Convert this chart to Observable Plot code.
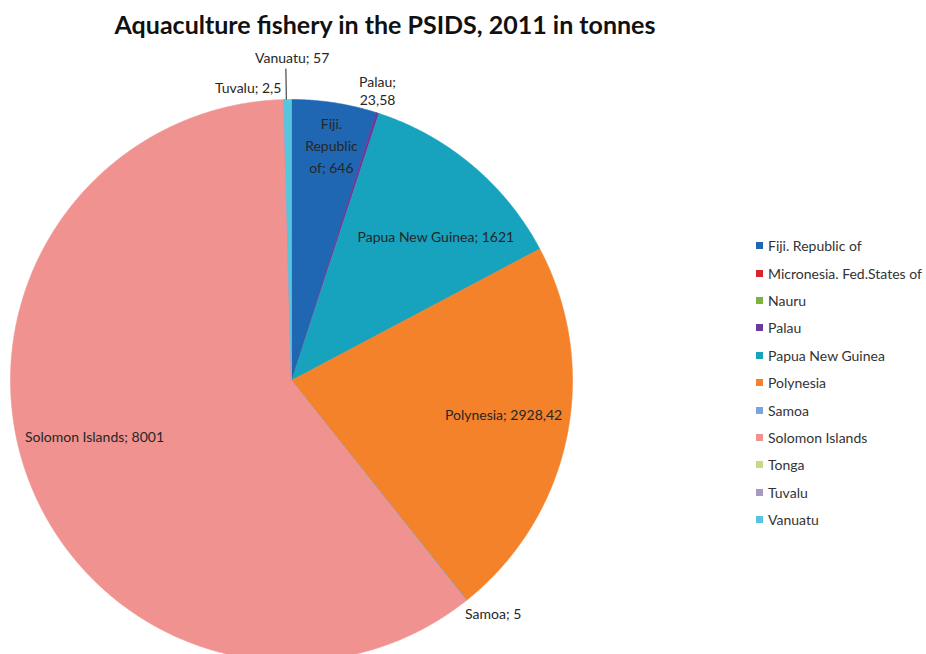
<!DOCTYPE html>
<html>
<head>
<meta charset="utf-8">
<script src="https://cdn.jsdelivr.net/npm/d3@7"></script>
<script src="https://cdn.jsdelivr.net/npm/@observablehq/plot@0.6"></script>
<style>
  html, body { margin: 0; padding: 0; background: #ffffff; overflow: hidden; }
  #wrap { position: relative; width: 926px; height: 654px; font-family: Lato, "Open Sans", sans-serif; }
  #title { height: 40px; width: 770px; text-align: center; font-weight: bold; font-size: 25px; line-height: 30px; padding-top: 9px; box-sizing: border-box; color: #111; white-space: nowrap; }
  #legend { position: absolute; left: 756px; top: 232px; font-size: 14px; color: #333; }
  #legend .row { height: 27.4px; display: flex; align-items: center; white-space: nowrap; }
  #legend .sw { width: 7px; height: 7px; margin-right: 5px; display: inline-block; }
</style>
</head>
<body>
<div id="wrap">
  <div id="title"></div>
  <div id="chart"></div>
  <div id="legend"></div>
</div>
<script>
// ---- data ----
const titleText = "Aquaculture fishery in the PSIDS, 2011 in tonnes";
const countries = ["Fiji. Republic of", "Micronesia. Fed.States of", "Nauru", "Palau", "Papua New Guinea", "Polynesia", "Samoa", "Solomon Islands", "Tonga", "Tuvalu", "Vanuatu"];
const tonnes = [646, 0, 0, 23.58, 1621, 2928.42, 5, 8001, 0, 2.5, 57];
const colors = ["#1f66b3", "#d7262d", "#79b53d", "#6b3a9a", "#17a2be", "#f4822a", "#7aa5d8", "#f0928f", "#c5d98a", "#a898c6", "#55c5e0"];

// label text lines (as shown in the chart)
const labelLines = {
  "Fiji. Republic of": ["Fiji.", "Republic", "of; 646"],
  "Palau": ["Palau;", "23,58"],
  "Papua New Guinea": ["Papua New Guinea; 1621"],
  "Polynesia": ["Polynesia; 2928,42"],
  "Samoa": ["Samoa; 5"],
  "Solomon Islands": ["Solomon Islands; 8001"],
  "Tuvalu": ["Tuvalu; 2,5"],
  "Vanuatu": ["Vanuatu; 57"]
};

// ---- label placement (radius factor + pixel nudges) ----
const place = {
  "Fiji. Republic of": {k: 0.84, dx: 4, dy: -3, anchor: "middle", lh: 1.55},
  "Palau": {k: 1.07, dx: -6, dy: -4, anchor: "middle", lh: 1.3},
  "Papua New Guinea": {k: 0.72, dx: 14, dy: 10, anchor: "middle", lh: 1.3},
  "Polynesia": {k: 0.76, dx: 3, dy: -10, anchor: "middle", lh: 1.3},
  "Samoa": {k: 1.09, dx: 11, dy: -7, anchor: "middle", lh: 1.3},
  "Solomon Islands": {k: 0.75, dx: 1, dy: -16, anchor: "middle", lh: 1.3},
  "Tuvalu": {k: 1.046, dx: -2, dy: 0, anchor: "end", lh: 1.3},
  "Vanuatu": {k: 1.15, dx: 5, dy: 0, anchor: "middle", lh: 1.3}
};

document.getElementById("title").textContent = titleText;

const rows = countries.map((name, i) => ({name, value: tonnes[i]}));
const arcs = d3.pie().sort(null).value(d => d.value)(rows);

// polygon points for slices
const slicePts = [];
arcs.forEach(a => {
  if (a.data.value <= 0) return;
  const span = a.endAngle - a.startAngle;
  const n = Math.max(2, Math.ceil(span / (Math.PI / 720)));
  slicePts.push({name: a.data.name, x: 0, y: 0});
  for (let j = 0; j <= n; j++) {
    const t = a.startAngle + span * j / n;
    slicePts.push({name: a.data.name, x: Math.sin(t), y: Math.cos(t)});
  }
  slicePts.push({name: a.data.name, x: 0, y: 0});
});

const labels = arcs.filter(a => labelLines[a.data.name]).map(a => {
  const m = (a.startAngle + a.endAngle) / 2;
  const p = place[a.data.name];
  return {name: a.data.name, text: labelLines[a.data.name].join("\n"), x: p.k * Math.sin(m), y: p.k * Math.cos(m), dx: p.dx, dy: p.dy, anchor: p.anchor, lh: p.lh};
});

const vArc = arcs.find(a => a.data.name === "Vanuatu");
const vMid = (vArc.startAngle + vArc.endAngle) / 2;
const leader = [{x1: 1.0 * Math.sin(vMid) - 0.005, y1: 1.0, x2: 1.11 * Math.sin(vMid) - 0.005, y2: 1.11}];

const plot = Plot.plot({
  width: 926,
  height: 614,
  margin: 0,
  style: {background: "transparent", overflow: "visible"},
  x: {domain: [-1, 1], range: [10, 572], axis: null},
  y: {domain: [-1, 1], range: [621, 59], axis: null},
  color: {type: "ordinal", domain: countries, range: colors},
  marks: [
    Plot.line(slicePts, {x: "x", y: "y", z: "name", fill: "name", stroke: "name", strokeWidth: 0.6, curve: "linear"}),
    Plot.link(leader, {x1: "x1", y1: "y1", x2: "x2", y2: "y2", stroke: "#222", strokeWidth: 1}),
    ...labels.map(d => Plot.text([d], {
      x: "x", y: "y", text: "text", textAnchor: d.anchor, lineAnchor: "middle", lineHeight: d.lh,
      fontSize: 14, fill: "#262626", fontFamily: "Lato, 'Open Sans', sans-serif",
      dx: d.dx, dy: d.dy
    }))
  ]
});
document.getElementById("chart").appendChild(plot);

// legend
const leg = document.getElementById("legend");
countries.forEach((name, i) => {
  const row = document.createElement("div");
  row.className = "row";
  const sw = document.createElement("span");
  sw.className = "sw";
  sw.style.background = colors[i];
  const t = document.createElement("span");
  t.textContent = name;
  row.appendChild(sw);
  row.appendChild(t);
  leg.appendChild(row);
});
</script>
</body>
</html>
